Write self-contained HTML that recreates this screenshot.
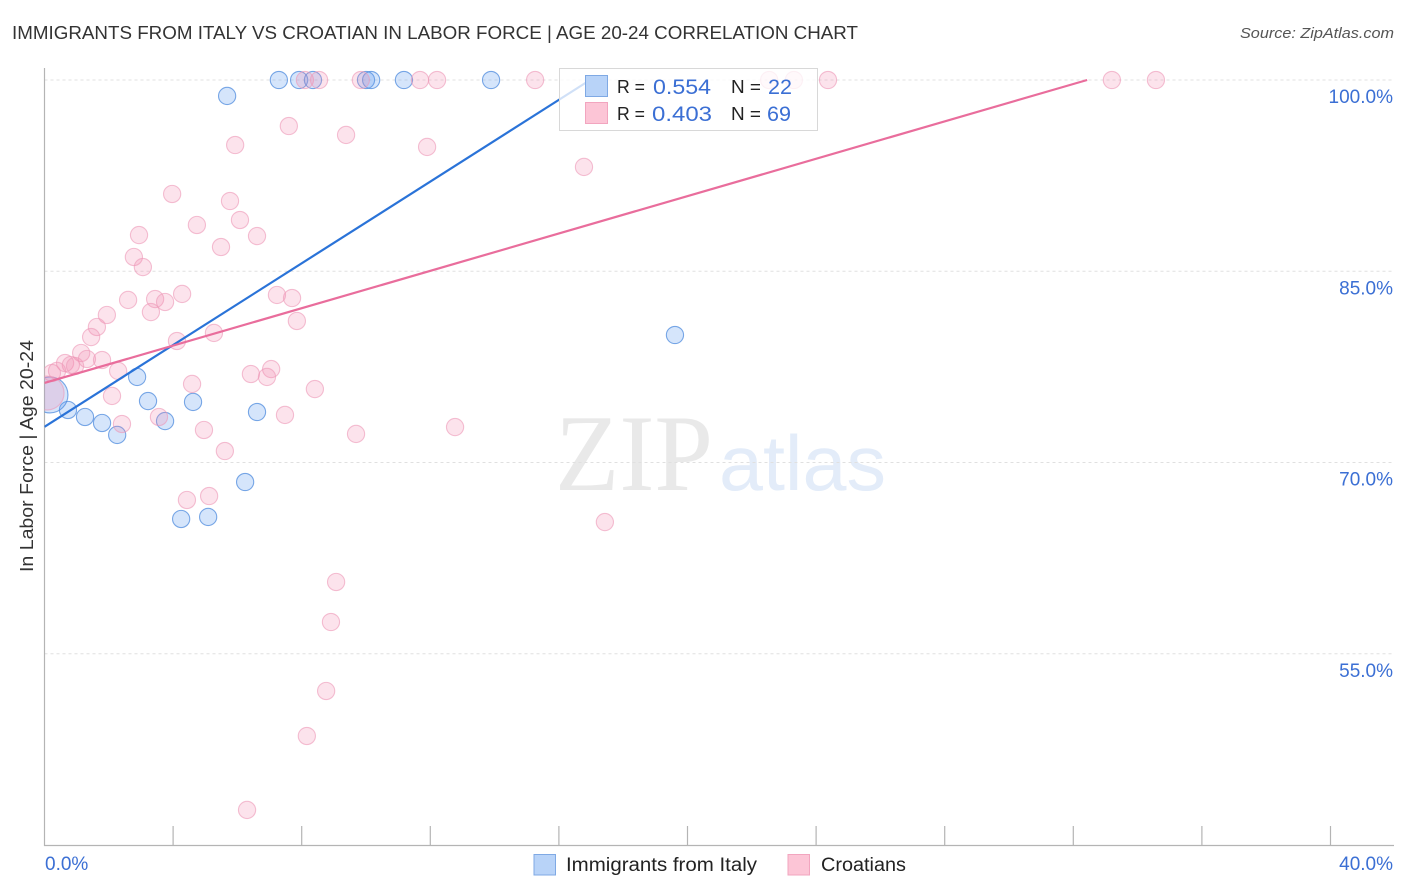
<!DOCTYPE html>
<html lang="en">
<head>
<meta charset="utf-8">
<title>Immigrants from Italy vs Croatian in Labor Force | Age 20-24 Correlation Chart</title>
<style>
html,body{margin:0;padding:0;background:#fff;width:1406px;height:892px;overflow:hidden}
svg{display:block;font-family:"Liberation Sans",sans-serif}
</style>
</head>
<body>
<svg id="chart" width="1406" height="892" viewBox="0 0 1406 892" xmlns="http://www.w3.org/2000/svg">
  <defs>
    <clipPath id="plot-clip"><rect x="44.5" y="60" width="1350" height="785"/></clipPath>
  </defs>
  <text x="12" y="39" font-size="18.5" fill="#333" textLength="846" lengthAdjust="spacingAndGlyphs">IMMIGRANTS FROM ITALY VS CROATIAN IN LABOR FORCE | AGE 20-24 CORRELATION CHART</text>
  <text x="1394" y="38" font-size="15" font-style="italic" fill="#555" text-anchor="end" textLength="154" lengthAdjust="spacingAndGlyphs">Source: ZipAtlas.com</text>

  <g>
    <text x="555" y="490" font-family="'Liberation Serif',serif" font-size="109" fill="#e9e9e9" textLength="158" lengthAdjust="spacingAndGlyphs">ZIP</text>
    <text x="719" y="490" font-size="78" fill="#e3ecf9" textLength="167" lengthAdjust="spacingAndGlyphs">atlas</text>
  </g>

  <g id="grid"></g>
  <g id="axes"></g>
  <g id="points" clip-path="url(#plot-clip)"></g>
  <g id="trends" clip-path="url(#plot-clip)"></g>

  <text transform="translate(33,456) rotate(-90)" font-size="18.5" fill="#333" text-anchor="middle" textLength="232" lengthAdjust="spacingAndGlyphs">In Labor Force | Age 20-24</text>

  <g>
    <rect x="559.5" y="68.5" width="258" height="62" fill="#fff" fill-opacity="0.78" stroke="#d8d8d8" stroke-width="1"/>
    <rect x="585.5" y="75.5" width="22" height="21" fill="#b8d3f8" stroke="#7fa9e4" stroke-width="1"/>
    <rect x="585.5" y="102.5" width="22" height="21" fill="#fcc5d6" stroke="#f2a5bf" stroke-width="1"/>
    <text x="617" y="93" font-size="18.5" fill="#222" textLength="28" lengthAdjust="spacingAndGlyphs">R =</text>
    <text x="653" y="94" font-size="21.5" fill="#3b6fd4" textLength="58" lengthAdjust="spacingAndGlyphs">0.554</text>
    <text x="731" y="93" font-size="18.5" fill="#222" textLength="30" lengthAdjust="spacingAndGlyphs">N =</text>
    <text x="768" y="94" font-size="21.5" fill="#3b6fd4" textLength="24" lengthAdjust="spacingAndGlyphs">22</text>
    <text x="617" y="120" font-size="18.5" fill="#222" textLength="28" lengthAdjust="spacingAndGlyphs">R =</text>
    <text x="652" y="121" font-size="21.5" fill="#3b6fd4" textLength="60" lengthAdjust="spacingAndGlyphs">0.403</text>
    <text x="731" y="120" font-size="18.5" fill="#222" textLength="30" lengthAdjust="spacingAndGlyphs">N =</text>
    <text x="767" y="121" font-size="21.5" fill="#3b6fd4" textLength="24" lengthAdjust="spacingAndGlyphs">69</text>
  </g>

  <g>
    <rect x="534" y="854.5" width="21.5" height="20.5" fill="#b8d3f8" stroke="#7fa9e4" stroke-width="1"/>
    <text x="566" y="871" font-size="19" fill="#222" textLength="191" lengthAdjust="spacingAndGlyphs">Immigrants from Italy</text>
    <rect x="788" y="854.5" width="21.5" height="20.5" fill="#fcc5d6" stroke="#f2a5bf" stroke-width="1"/>
    <text x="821" y="871" font-size="19" fill="#222" textLength="85" lengthAdjust="spacingAndGlyphs">Croatians</text>
  </g>
</svg>
<script>
const yTickValues = [100, 85, 70, 55];
const yTickLabels = ["100.0%", "85.0%", "70.0%", "55.0%"];
const xTickValues = [4, 8, 12, 16, 20, 24, 28, 32, 36, 40];
const xEndValues = [0, 40];
const xEndLabels = ["0.0%", "40.0%"];

const italyX = [5.68, 7.29, 7.92, 8.35, 10.0, 10.16, 11.18, 13.89, 19.61, 2.88, 3.22, 4.62, 6.61, 3.75, 0.73, 1.26, 1.79, 2.26, 6.24, 4.25, 5.09, 0.17];
const italyY = [98.75, 100, 100, 100, 100, 100, 100, 100, 80.0, 76.71, 74.82, 74.75, 73.96, 73.25, 74.12, 73.57, 73.1, 72.16, 68.47, 65.57, 65.73, 75.3];

const croatiansX = [8.10, 8.54, 9.84, 11.68, 12.21, 15.26, 22.54, 23.31, 24.37, 33.2, 34.57, 7.6, 9.38, 5.93, 11.9, 16.78, 3.97, 5.77, 4.74, 6.08, 2.94, 6.61, 5.49, 2.78, 3.06, 4.28, 2.6, 3.44, 3.75, 3.31, 1.94, 7.23, 7.7, 7.85, 1.63, 5.27, 1.45, 4.12, 1.14, 1.32, 1.79, 0.64, 0.82, 0.95, 0.39, 0.23, 2.29, 7.05, 6.42, 6.92, 4.59, 8.41, 2.1, 7.48, 3.56, 2.41, 4.96, 9.69, 12.77, 5.61, 4.43, 5.12, 17.43, 9.07, 8.91, 8.76, 8.16, 6.3, 0.08];
const croatiansY = [100, 100, 100, 100, 100, 100, 100, 100, 100, 100, 100, 96.39, 95.69, 94.9, 94.75, 93.18, 91.06, 90.51, 88.63, 89.02, 87.84, 87.76, 86.9, 86.12, 85.33, 83.22, 82.75, 82.82, 82.59, 81.8, 81.57, 83.14, 82.9, 81.1, 80.63, 80.16, 79.84, 79.53, 78.59, 78.12, 78.04, 77.8, 77.65, 77.57, 77.18, 77.02, 77.18, 77.33, 76.94, 76.71, 76.16, 75.76, 75.22, 73.73, 73.57, 73.02, 72.55, 72.24, 72.78, 70.9, 67.06, 67.37, 65.33, 60.63, 57.49, 52.08, 48.55, 42.75, 75.45];

const italyTrendX = [0, 16.97];
const italyTrendY = [72.8, 100];
const croatiansTrendX = [0, 32.43];
const croatiansTrendY = [76.24, 100];

const NS = "http://www.w3.org/2000/svg";
const xScale = v => 44.5 + v * 32.15;
const yScale = v => 80 + (100 - v) * 12.75;

function make(tag, attrs, parent, text) {
  const el = document.createElementNS(NS, tag);
  for (const k in attrs) el.setAttribute(k, attrs[k]);
  if (text !== undefined) el.textContent = text;
  parent.appendChild(el);
  return el;
}

const gridG = document.getElementById("grid");
const axesG = document.getElementById("axes");
const pointsG = document.getElementById("points");
const trendsG = document.getElementById("trends");

yTickValues.forEach((v, i) => {
  const line = make("line", {x1: 44.5, x2: 1394, y1: yScale(v), y2: yScale(v), stroke: "#e0e0e0", "stroke-width": 1, "stroke-dasharray": "3 3"}, gridG);
  
  
  const label = make("text", {x: 1393, y: yScale(v) + 23, "font-size": 19, fill: "#3b6fd4", "text-anchor": "end"}, axesG, yTickLabels[i]);
  
  
});

const yAxis = make("line", {x1: 44.5, x2: 44.5, y1: 68, y2: 846, stroke: "#b4b4b4", "stroke-width": 1.2}, axesG);


const xAxis = make("line", {x1: 44, x2: 1394, y1: 845.5, y2: 845.5, stroke: "#b4b4b4", "stroke-width": 1.2}, axesG);



xTickValues.forEach(v => {
  const tick = make("line", {x1: xScale(v), x2: xScale(v), y1: 826, y2: 845.5, stroke: "#b4b4b4", "stroke-width": 1.2}, axesG);
  
  
});

xEndValues.forEach((v, i) => {
  const label = make("text", {x: i === 0 ? xScale(v) + 0.5 : 1393, y: 870, "font-size": 19, fill: "#3b6fd4", "text-anchor": i === 0 ? "start" : "end"}, axesG, xEndLabels[i]);
  
  
});

function drawSeries(xs, ys, color, stroke, strokeOpacity, fillOpacity, name, bigR) {
  xs.forEach((x, i) => {
    const isLast = i === xs.length - 1;
    const c = make("circle", {
      cx: xScale(x), cy: yScale(ys[i]), r: isLast ? bigR : 8.6,
      fill: color, "fill-opacity": fillOpacity, stroke: stroke, "stroke-opacity": strokeOpacity, "stroke-width": 1.1
    }, pointsG);
    
    
  });
}
drawSeries(italyX, italyY, "#5b9bef", "#4a88dc", 0.72, 0.26, "italy-point", 18);
drawSeries(croatiansX, croatiansY, "#f28bb0", "#ee9ab8", 0.62, 0.24, "croatians-point", 17);

const italyTrend = make("line", {
  x1: xScale(italyTrendX[0]), y1: yScale(italyTrendY[0]),
  x2: xScale(italyTrendX[1]), y2: yScale(italyTrendY[1]),
  stroke: "#2a73d8", "stroke-width": 2.2
}, trendsG);



const croatiansTrend = make("line", {
  x1: xScale(croatiansTrendX[0]), y1: yScale(croatiansTrendY[0]),
  x2: xScale(croatiansTrendX[1]), y2: yScale(croatiansTrendY[1]),
  stroke: "#e96d9c", "stroke-width": 2.2
}, trendsG);


</script>
</body>
</html>
